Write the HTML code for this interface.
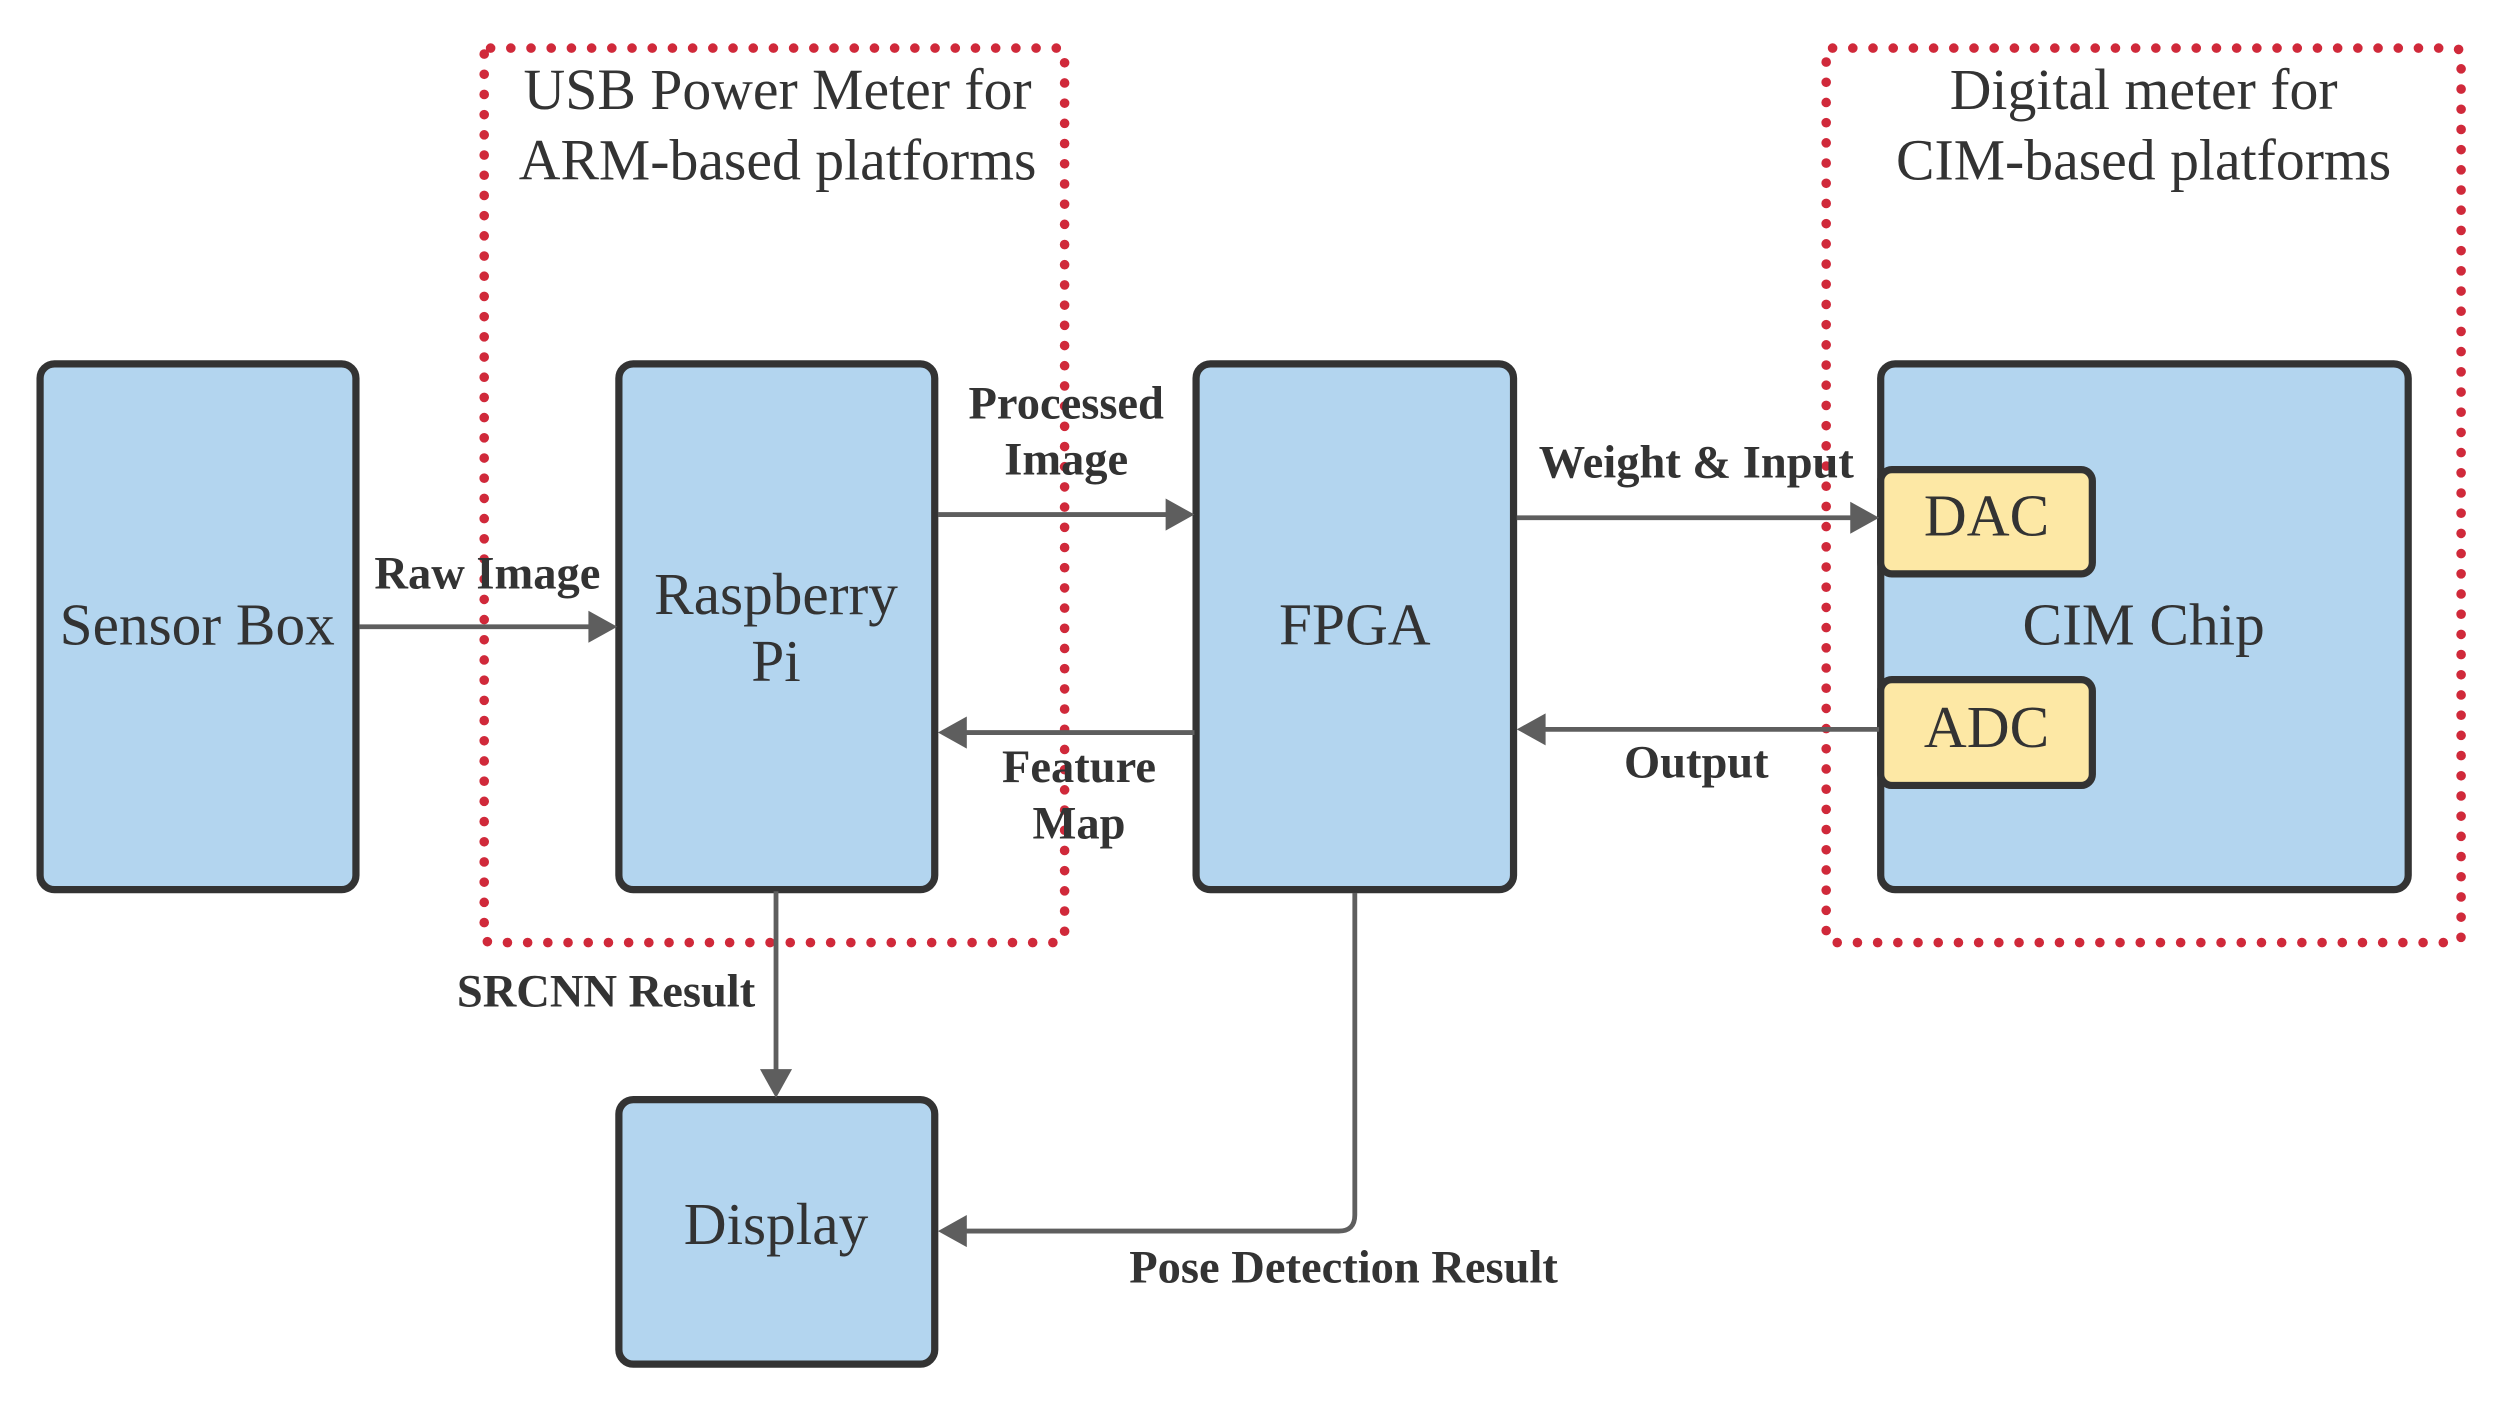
<!DOCTYPE html>
<html><head><meta charset="utf-8"><style>
html,body{margin:0;padding:0;background:#fff;}
svg{display:block;}
text{font-family:"Liberation Serif",serif;fill:#333;}
.b{font-size:37px;text-anchor:middle;}
.t{font-size:36px;text-anchor:middle;}
.l{font-size:29px;font-weight:bold;text-anchor:middle;}
</style></head><body>
<svg width="2506" height="1409" viewBox="0 0 1563 879" preserveAspectRatio="none" xmlns="http://www.w3.org/2000/svg">
<g fill="none" stroke="#d0293a" stroke-width="6" stroke-linecap="round" stroke-dasharray="0 12.6">
<rect x="302" y="30" width="362" height="558" rx="4"/>
<rect x="1139" y="30" width="396" height="558" rx="4"/>
</g>
<g fill="#b3d5ef" stroke="#333" stroke-width="4.5">
<rect x="25" y="227" width="197" height="328" rx="9"/>
<rect x="386" y="227" width="197" height="328" rx="9"/>
<rect x="746" y="227" width="198" height="328" rx="9"/>
<rect x="1173" y="227" width="329" height="328" rx="9"/>
<rect x="386" y="686" width="197" height="165" rx="9"/>
</g>
<g fill="#fde8a5" stroke="#333" stroke-width="4.5">
<rect x="1173" y="293" width="132" height="65" rx="7"/>
<rect x="1173" y="424" width="132" height="66" rx="7"/>
</g>
<g stroke="#5e5e5e" stroke-width="3" fill="none">
<line x1="224" y1="391" x2="368" y2="391"/>
<line x1="585" y1="321" x2="728" y2="321"/>
<line x1="745" y1="457" x2="602" y2="457"/>
<line x1="946" y1="323" x2="1155" y2="323"/>
<line x1="1172" y1="455" x2="963" y2="455"/>
<line x1="484" y1="556" x2="484" y2="668"/>
<path d="M845 557 V758 Q845 768 835 768 H602"/>
</g>
<g fill="#5e5e5e">
<path d="M385 391 l-18 -10 v20z"/>
<path d="M745 321 l-18 -10 v20z"/>
<path d="M585 457 l18 -10 v20z"/>
<path d="M1172 323 l-18 -10 v20z"/>
<path d="M946 455 l18 -10 v20z"/>
<path d="M484 685 l-10 -18 h20z"/>
<path d="M585 768 l18 -10 v20z"/>
</g>
<text class="b" x="123" y="402">Sensor Box</text>
<text class="b" x="484" y="383">Raspberry</text>
<text class="b" x="484" y="425">Pi</text>
<text class="b" x="845" y="402">FPGA</text>
<text class="b" x="1337" y="402">CIM Chip</text>
<text class="b" x="1239" y="334">DAC</text>
<text class="b" x="1239" y="466">ADC</text>
<text class="b" x="484" y="776">Display</text>
<text class="t" x="485" y="68">USB Power Meter for</text>
<text class="t" x="485" y="112">ARM-based platforms</text>
<text class="t" x="1337" y="68">Digital meter for</text>
<text class="t" x="1337" y="112">CIM-based platforms</text>
<text class="l" x="304" y="367">Raw Image</text>
<text class="l" x="665" y="261">Processed</text>
<text class="l" x="665" y="296">Image</text>
<text class="l" x="673" y="488">Feature</text>
<text class="l" x="673" y="523">Map</text>
<text class="l" x="1058" y="298">Weight &amp; Input</text>
<text class="l" x="1058" y="485">Output</text>
<text class="l" x="378" y="628">SRCNN Result</text>
<text class="l" x="838" y="800">Pose Detection Result</text>
</svg>
</body></html>
